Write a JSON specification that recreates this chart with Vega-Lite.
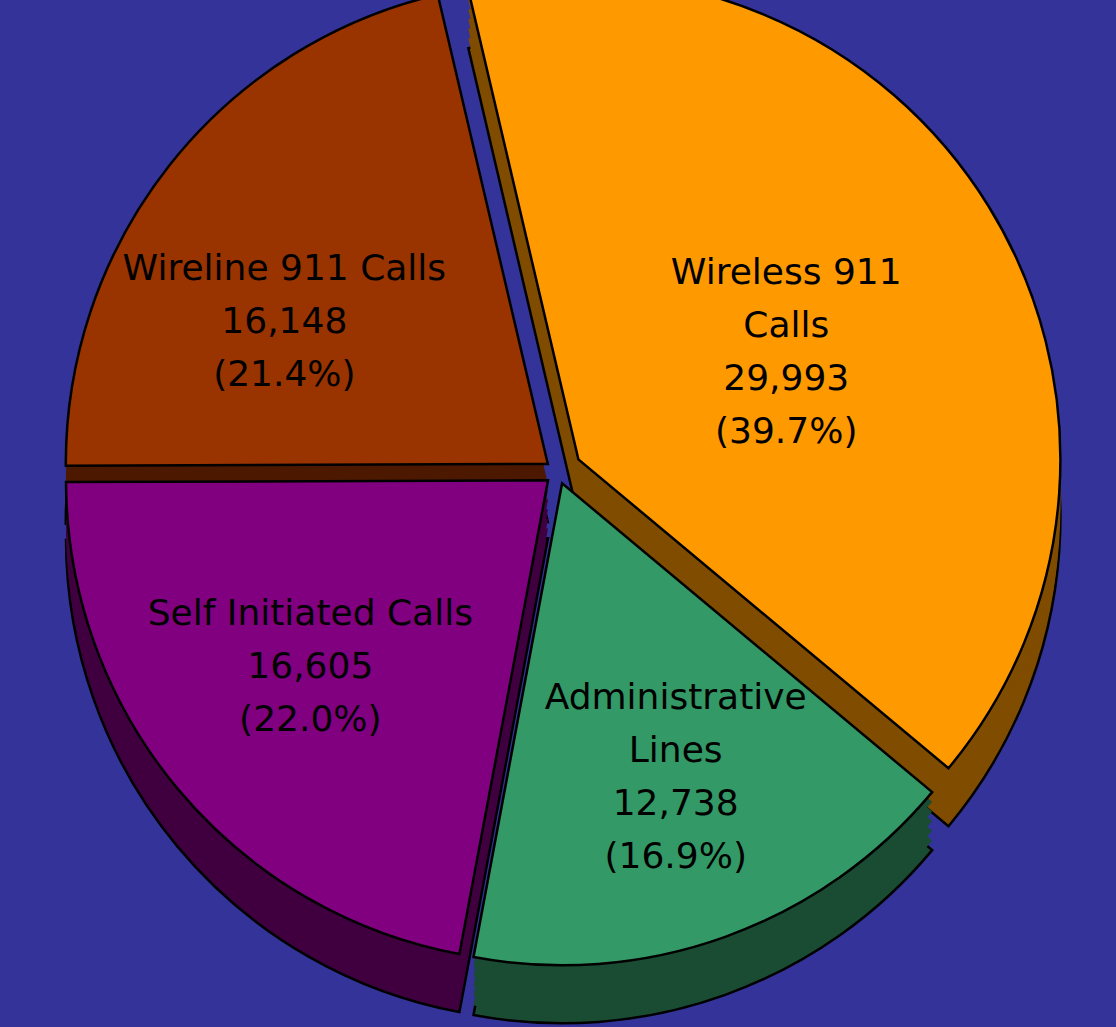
{
  "$schema": "https://vega.github.io/schema/vega-lite/v6.json",
  "width": 1116,
  "height": 1027,
  "autosize": {"type": "none"},
  "padding": 0,
  "background": "#333399",
  "config": {"view": {"stroke": null}},
  "data": {
    "values": [
      {"key": "wireless", "name": "Wireless 911\nCalls", "calls": 29993, "order": 1},
      {"key": "admin", "name": "Administrative\nLines", "calls": 12738, "order": 2},
      {"key": "self", "name": "Self Initiated Calls", "calls": 16605, "order": 3},
      {"key": "wireline", "name": "Wireline 911 Calls", "calls": 16148, "order": 4}
    ]
  },
  "transform": [
    {"joinaggregate": [{"op": "sum", "field": "calls", "as": "total"}]},
    {"calculate": "datum.name + '\\n' + format(datum.calls, ',') + '\\n(' + format(datum.calls / datum.total, '.1%') + ')'", "as": "label"}
  ],
  "encoding": {
    "theta": {"field": "calls", "type": "quantitative", "stack": true, "scale": {"range": [-0.2304, 6.0528]}},
    "order": {"field": "order", "type": "quantitative", "sort": "ascending"}
  },
  "layer": [
    {"mark": {"type": "arc", "radius": 482, "fill": "#7F4C00", "stroke": "#000000", "strokeWidth": 2.5, "xOffset": 20.4, "yOffset": 3.9},
     "encoding": {"opacity": {"condition": {"test": "datum.key === 'wireless'", "value": 1}, "value": 0}}},
    {"mark": {"type": "arc", "radius": 482, "fill": "#7F4C00", "strokeWidth": 0, "xOffset": 20.4, "yOffset": -5.8},
     "encoding": {"opacity": {"condition": {"test": "datum.key === 'wireless'", "value": 1}, "value": 0}}},
    {"mark": {"type": "arc", "radius": 482, "fill": "#7F4C00", "strokeWidth": 0, "xOffset": 20.4, "yOffset": -15.4},
     "encoding": {"opacity": {"condition": {"test": "datum.key === 'wireless'", "value": 1}, "value": 0}}},
    {"mark": {"type": "arc", "radius": 482, "fill": "#7F4C00", "strokeWidth": 0, "xOffset": 20.4, "yOffset": -25.1},
     "encoding": {"opacity": {"condition": {"test": "datum.key === 'wireless'", "value": 1}, "value": 0}}},
    {"mark": {"type": "arc", "radius": 482, "fill": "#7F4C00", "strokeWidth": 0, "xOffset": 20.4, "yOffset": -34.8},
     "encoding": {"opacity": {"condition": {"test": "datum.key === 'wireless'", "value": 1}, "value": 0}}},
    {"mark": {"type": "arc", "radius": 482, "fill": "#7F4C00", "strokeWidth": 0, "xOffset": 20.4, "yOffset": -44.4},
     "encoding": {"opacity": {"condition": {"test": "datum.key === 'wireless'", "value": 1}, "value": 0}}},

    {"mark": {"type": "arc", "radius": 482, "fill": "#4C1900", "stroke": "#000000", "strokeWidth": 2.5, "xOffset": -10.2, "yOffset": 8.4},
     "encoding": {"opacity": {"condition": {"test": "datum.key === 'wireline'", "value": 1}, "value": 0}}},
    {"mark": {"type": "arc", "radius": 482, "fill": "#4C1900", "strokeWidth": 0, "xOffset": -10.2, "yOffset": -10.9},
     "encoding": {"opacity": {"condition": {"test": "datum.key === 'wireline'", "value": 1}, "value": 0}}},
    {"mark": {"type": "arc", "radius": 482, "fill": "#4C1900", "strokeWidth": 0, "xOffset": -10.2, "yOffset": -30.3},
     "encoding": {"opacity": {"condition": {"test": "datum.key === 'wireline'", "value": 1}, "value": 0}}},

    {"mark": {"type": "arc", "radius": 482, "fill": "#400040", "stroke": "#000000", "strokeWidth": 2.5, "xOffset": -10, "yOffset": 24.8},
     "encoding": {"opacity": {"condition": {"test": "datum.key === 'self'", "value": 1}, "value": 0}}},
    {"mark": {"type": "arc", "radius": 482, "fill": "#400040", "strokeWidth": 0, "xOffset": -10, "yOffset": 15.1},
     "encoding": {"opacity": {"condition": {"test": "datum.key === 'self'", "value": 1}, "value": 0}}},
    {"mark": {"type": "arc", "radius": 482, "fill": "#400040", "strokeWidth": 0, "xOffset": -10, "yOffset": 5.5},
     "encoding": {"opacity": {"condition": {"test": "datum.key === 'self'", "value": 1}, "value": 0}}},
    {"mark": {"type": "arc", "radius": 482, "fill": "#400040", "strokeWidth": 0, "xOffset": -10, "yOffset": -4.2},
     "encoding": {"opacity": {"condition": {"test": "datum.key === 'self'", "value": 1}, "value": 0}}},
    {"mark": {"type": "arc", "radius": 482, "fill": "#400040", "strokeWidth": 0, "xOffset": -10, "yOffset": -13.9},
     "encoding": {"opacity": {"condition": {"test": "datum.key === 'self'", "value": 1}, "value": 0}}},
    {"mark": {"type": "arc", "radius": 482, "fill": "#400040", "strokeWidth": 0, "xOffset": -10, "yOffset": -23.5},
     "encoding": {"opacity": {"condition": {"test": "datum.key === 'self'", "value": 1}, "value": 0}}},

    {"mark": {"type": "arc", "radius": 482, "fill": "#1A4C33", "stroke": "#000000", "strokeWidth": 2.5, "xOffset": 4.1, "yOffset": 27.8},
     "encoding": {"opacity": {"condition": {"test": "datum.key === 'admin'", "value": 1}, "value": 0}}},
    {"mark": {"type": "arc", "radius": 482, "fill": "#1A4C33", "strokeWidth": 0, "xOffset": 4.1, "yOffset": 18.1},
     "encoding": {"opacity": {"condition": {"test": "datum.key === 'admin'", "value": 1}, "value": 0}}},
    {"mark": {"type": "arc", "radius": 482, "fill": "#1A4C33", "strokeWidth": 0, "xOffset": 4.1, "yOffset": 8.5},
     "encoding": {"opacity": {"condition": {"test": "datum.key === 'admin'", "value": 1}, "value": 0}}},
    {"mark": {"type": "arc", "radius": 482, "fill": "#1A4C33", "strokeWidth": 0, "xOffset": 4.1, "yOffset": -1.2},
     "encoding": {"opacity": {"condition": {"test": "datum.key === 'admin'", "value": 1}, "value": 0}}},
    {"mark": {"type": "arc", "radius": 482, "fill": "#1A4C33", "strokeWidth": 0, "xOffset": 4.1, "yOffset": -10.9},
     "encoding": {"opacity": {"condition": {"test": "datum.key === 'admin'", "value": 1}, "value": 0}}},
    {"mark": {"type": "arc", "radius": 482, "fill": "#1A4C33", "strokeWidth": 0, "xOffset": 4.1, "yOffset": -20.5},
     "encoding": {"opacity": {"condition": {"test": "datum.key === 'admin'", "value": 1}, "value": 0}}},

    {"mark": {"type": "arc", "radius": 482, "fill": "#FF9900", "stroke": "#000000", "strokeWidth": 2.5, "xOffset": 20.4, "yOffset": -54.1},
     "encoding": {"opacity": {"condition": {"test": "datum.key === 'wireless'", "value": 1}, "value": 0}}},
    {"mark": {"type": "arc", "radius": 482, "fill": "#993300", "stroke": "#000000", "strokeWidth": 2.5, "xOffset": -10.2, "yOffset": -49.6},
     "encoding": {"opacity": {"condition": {"test": "datum.key === 'wireline'", "value": 1}, "value": 0}}},
    {"mark": {"type": "arc", "radius": 482, "fill": "#800080", "stroke": "#000000", "strokeWidth": 2.5, "xOffset": -10, "yOffset": -33.2},
     "encoding": {"opacity": {"condition": {"test": "datum.key === 'self'", "value": 1}, "value": 0}}},
    {"mark": {"type": "arc", "radius": 482, "fill": "#339966", "stroke": "#000000", "strokeWidth": 2.5, "xOffset": 4.1, "yOffset": -30.2},
     "encoding": {"opacity": {"condition": {"test": "datum.key === 'admin'", "value": 1}, "value": 0}}},

    {"mark": {"type": "text", "radius": 236, "dx": 7, "dy": -62.5, "xOffset": 20.4, "yOffset": -54.1, "font": "DejaVu Sans", "fontSize": 36, "lineHeight": 53, "lineBreak": "\n", "fill": "#000000", "align": "center", "baseline": "middle"},
     "encoding": {"text": {"field": "label", "type": "nominal"}, "opacity": {"condition": {"test": "datum.key === 'wireless'", "value": 1}, "value": 0}}},
    {"mark": {"type": "text", "radius": 312, "dx": 8, "dy": -78.5, "xOffset": 4.1, "yOffset": -30.2, "font": "DejaVu Sans", "fontSize": 36, "lineHeight": 53, "lineBreak": "\n", "fill": "#000000", "align": "center", "baseline": "middle"},
     "encoding": {"text": {"field": "label", "type": "nominal"}, "opacity": {"condition": {"test": "datum.key === 'admin'", "value": 1}, "value": 0}}},
    {"mark": {"type": "text", "radius": 299, "dx": -8, "dy": -58, "xOffset": -10, "yOffset": -33.2, "font": "DejaVu Sans", "fontSize": 36, "lineHeight": 53, "lineBreak": "\n", "fill": "#000000", "align": "center", "baseline": "middle"},
     "encoding": {"text": {"field": "label", "type": "nominal"}, "opacity": {"condition": {"test": "datum.key === 'self'", "value": 1}, "value": 0}}},
    {"mark": {"type": "text", "radius": 300, "dx": -28, "dy": -9, "xOffset": -10.2, "yOffset": -49.6, "font": "DejaVu Sans", "fontSize": 36, "lineHeight": 53, "lineBreak": "\n", "fill": "#000000", "align": "center", "baseline": "middle"},
     "encoding": {"text": {"field": "label", "type": "nominal"}, "opacity": {"condition": {"test": "datum.key === 'wireline'", "value": 1}, "value": 0}}}
  ]
}
